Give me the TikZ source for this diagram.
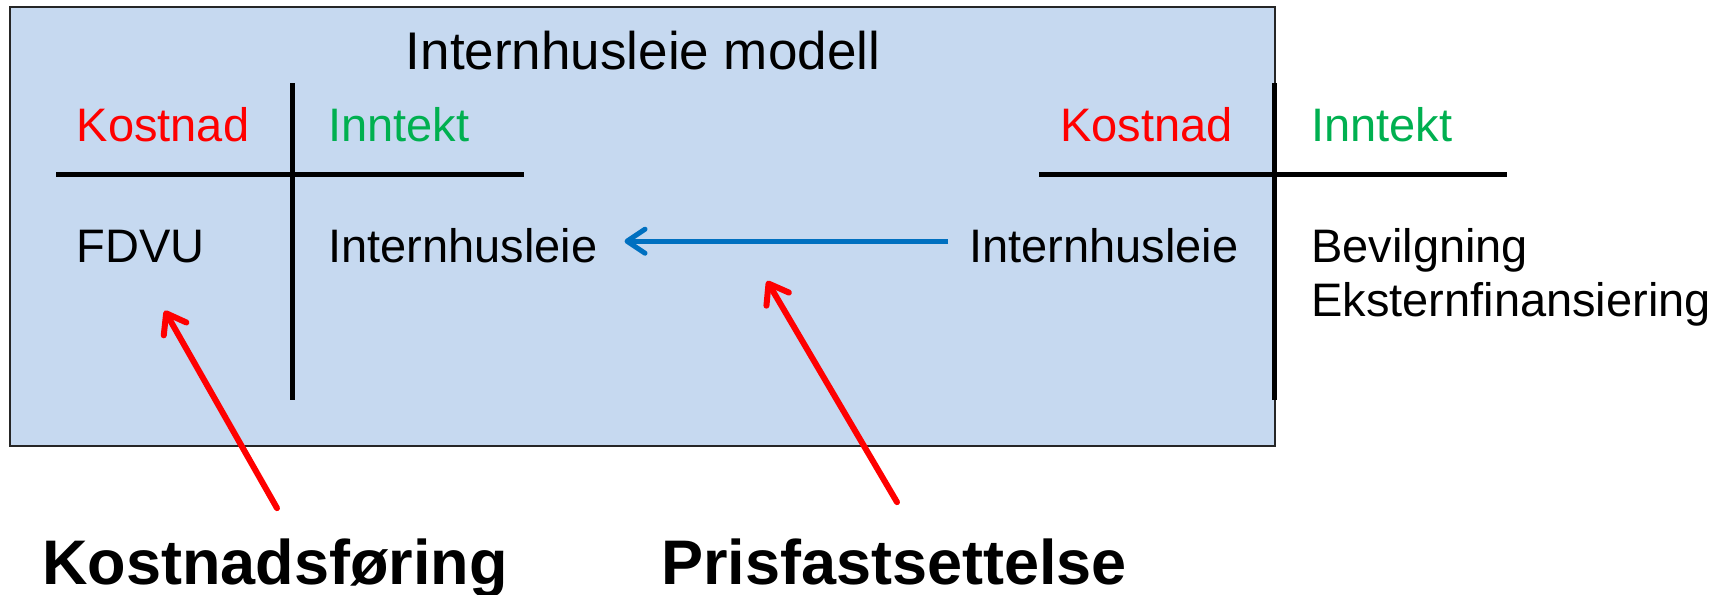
\documentclass[tikz,border=0pt]{standalone}
\usepackage{fontspec}
\setmainfont{Liberation Sans}
\usetikzlibrary{arrows.meta,calc}
\definecolor{boxfill}{RGB}{198,217,240}
\definecolor{kred}{RGB}{255,0,0}
\definecolor{igreen}{RGB}{0,176,80}
\definecolor{ablue}{RGB}{0,112,192}
\begin{document}
\begin{tikzpicture}[x=1pt,y=-1pt,
  txt/.style={inner sep=0pt,anchor=base west,font=\fontsize{47}{56}\selectfont},
  ttl/.style={inner sep=0pt,anchor=base,font=\fontsize{53}{62}\selectfont},
  big/.style={inner sep=0pt,anchor=base,font=\fontsize{63}{74}\selectfont\bfseries},
  tline/.style={line width=5pt,black},
  redarrow/.style={line width=6pt,kred,line cap=round,-{Straight Barb[length=18pt,width=26pt,line cap=round,line join=round]}},
  bluearrow/.style={line width=5pt,ablue,line cap=butt,-{Straight Barb[length=18pt,width=24pt,line cap=round,line join=round]}}]
\useasboundingbox (0,0) rectangle (1731,594);
% background box
\draw[fill=boxfill,draw=black!85,line width=1.5pt] (10,7) rectangle (1275,446);
% title
\node[ttl] (title) at (643,70) {Internhusleie modell};
% left T account
\draw[tline] (56,174) -- (524,174);
\draw[tline] (292,83) -- (292,400);
\node[txt,text=kred] (kostL) at (76.5,141.6) {Kostnad};
\node[txt,text=igreen] (inntL) at (328,141.6) {Inntekt};
\node[txt] (fdvu) at (76.5,262) {FDVU};
\node[txt] (ihL) at (328,262) {Internhusleie};
% right T account
\draw[tline] (1039,174) -- (1507,174);
\draw[tline] (1274,83) -- (1274,400);
\node[txt,text=kred] (kostR) at (1060,141.6) {Kostnad};
\node[txt,text=igreen] (inntR) at (1311,141.6) {Inntekt};
\node[txt] (ihR) at (969,262) {Internhusleie};
\node[txt] (bev) at (1311,262) {Bevilgning};
\node[txt] (ekst) at (1311,316) {Eksternfinansiering};
% bottom labels
\node[big] (kf) at (275,584) {Kostnadsføring};
\node[big] (pf) at (894,584) {Prisfastsettelse};
% arrows
\draw[bluearrow] ([xshift=-21pt,yshift=4pt]ihR.west) -- ([xshift=27pt,yshift=4pt]ihL.east);
\coordinate (pricept) at (767,281);
\draw[redarrow] ([xshift=2pt,yshift=30pt]kf.north) -- ([xshift=24pt,yshift=-48pt]fdvu.south);
\draw[redarrow] ([xshift=3pt,yshift=36pt]pf.north) -- (pricept);
\end{tikzpicture}
\end{document}
